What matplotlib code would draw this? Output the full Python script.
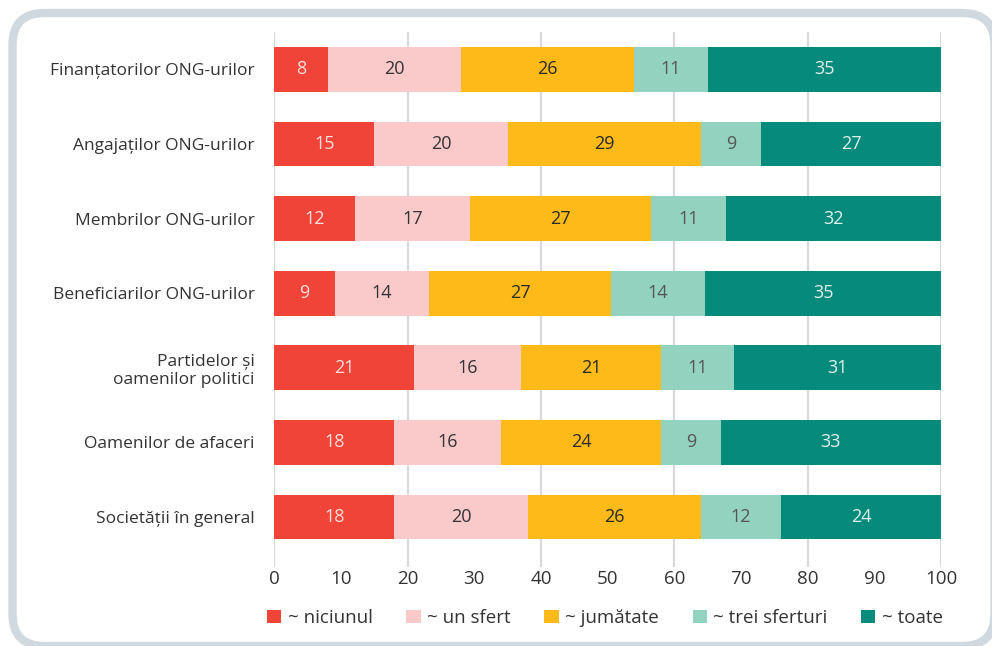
import numpy as np
import pandas as pd
import matplotlib
matplotlib.use('Agg')
import matplotlib.pyplot as plt
from matplotlib.patches import FancyBboxPatch, Patch

plt.rcParams['font.family'] = ['Open Sans', 'DejaVu Sans']

CATEGORIES = ['Finanțatorilor ONG-urilor', 'Angajaților ONG-urilor', 'Membrilor ONG-urilor',
              'Beneficiarilor ONG-urilor', 'Partidelor și\noamenilor politici',
              'Oamenilor de afaceri', 'Societății în general']
SERIES = ['~ niciunul', '~ un sfert', '~ jumătate', '~ trei sferturi', '~ toate']
NICIUNUL = [8, 15, 12, 9, 21, 18, 18]
UN_SFERT = [20, 20, 17, 14, 16, 16, 20]
JUMATATE = [26, 29, 27, 27, 21, 24, 26]
TREI_SFERTURI = [11, 9, 11, 14, 11, 9, 12]
TOATE = [35, 27, 32, 35, 31, 33, 24]
X_TICKS = list(range(0, 101, 10))
GRID_AT = list(range(0, 101, 20))

COLORS = ['#f04438', '#facacb', '#fdba19', '#93d2be', '#058a7b']
TEXT_COLORS = ['#fde0dc', '#333333', '#2a2a2a', '#555555', '#e0f0ec']

df = pd.DataFrame({s: v for s, v in zip(SERIES, [NICIUNUL, UN_SFERT, JUMATATE, TREI_SFERTURI, TOATE])},
                  index=CATEGORIES)
shares = df.div(df.sum(axis=1), axis=0) * 100

W, H = 992, 646
fig = plt.figure(figsize=(W / 100, H / 100), dpi=100, facecolor='white')

# rounded frame around the whole figure
bg = fig.add_axes([0, 0, 1, 1], zorder=0)
bg.set_xlim(0, W); bg.set_ylim(H, 0); bg.axis('off')
bg.add_patch(FancyBboxPatch((12.5, 13), 982, 633, boxstyle='round,pad=0,rounding_size=32',
                            facecolor='white', edgecolor='#d0d9df', lw=6))

ax = fig.add_axes([274.3 / W, 1 - 567 / H, 666.7 / W, 535 / H], zorder=1)
ax.patch.set_alpha(0)
y = np.arange(len(CATEGORIES))
left = np.zeros(len(CATEGORIES))
for s, col, tcol in zip(SERIES, COLORS, TEXT_COLORS):
    vals = shares[s].values
    ax.barh(y, vals, left=left, height=0.6, color=col, zorder=3, label=s)
    for yi, l, v, raw in zip(y, left, vals, df[s].values):
        ax.text(l + v / 2, yi, f'{raw}', ha='center', va='center', color=tcol,
                fontsize=13, zorder=4)
    left += vals

for g in GRID_AT:
    ax.axvline(g, color='#d9d9d9', lw=1.6, zorder=1)

ax.set_xlim(0, 100)
ax.set_ylim(6.67, -0.5)
ax.set_yticks(y)
ax.set_yticklabels(CATEGORIES, fontsize=12.5, color='#333333', ha='right')
ax.set_xticks(X_TICKS)
ax.tick_params(axis='x', length=0, pad=2, labelsize=13.5, labelcolor='#333333')
ax.tick_params(axis='y', length=0, pad=14)
for sp in ax.spines.values():
    sp.set_visible(False)

handles = [Patch(facecolor=c, edgecolor='none', label=s) for s, c in zip(SERIES, COLORS)]
fig.legend(handles=handles, loc='center', bbox_to_anchor=(605 / W, 1 - 618 / H), ncol=5,
           frameon=False, fontsize=13.5, handlelength=0.75, handleheight=0.75,
           handletextpad=0.35, columnspacing=1.8, labelcolor='#333333')

fig.savefig('out.png', dpi=100, facecolor='white')
